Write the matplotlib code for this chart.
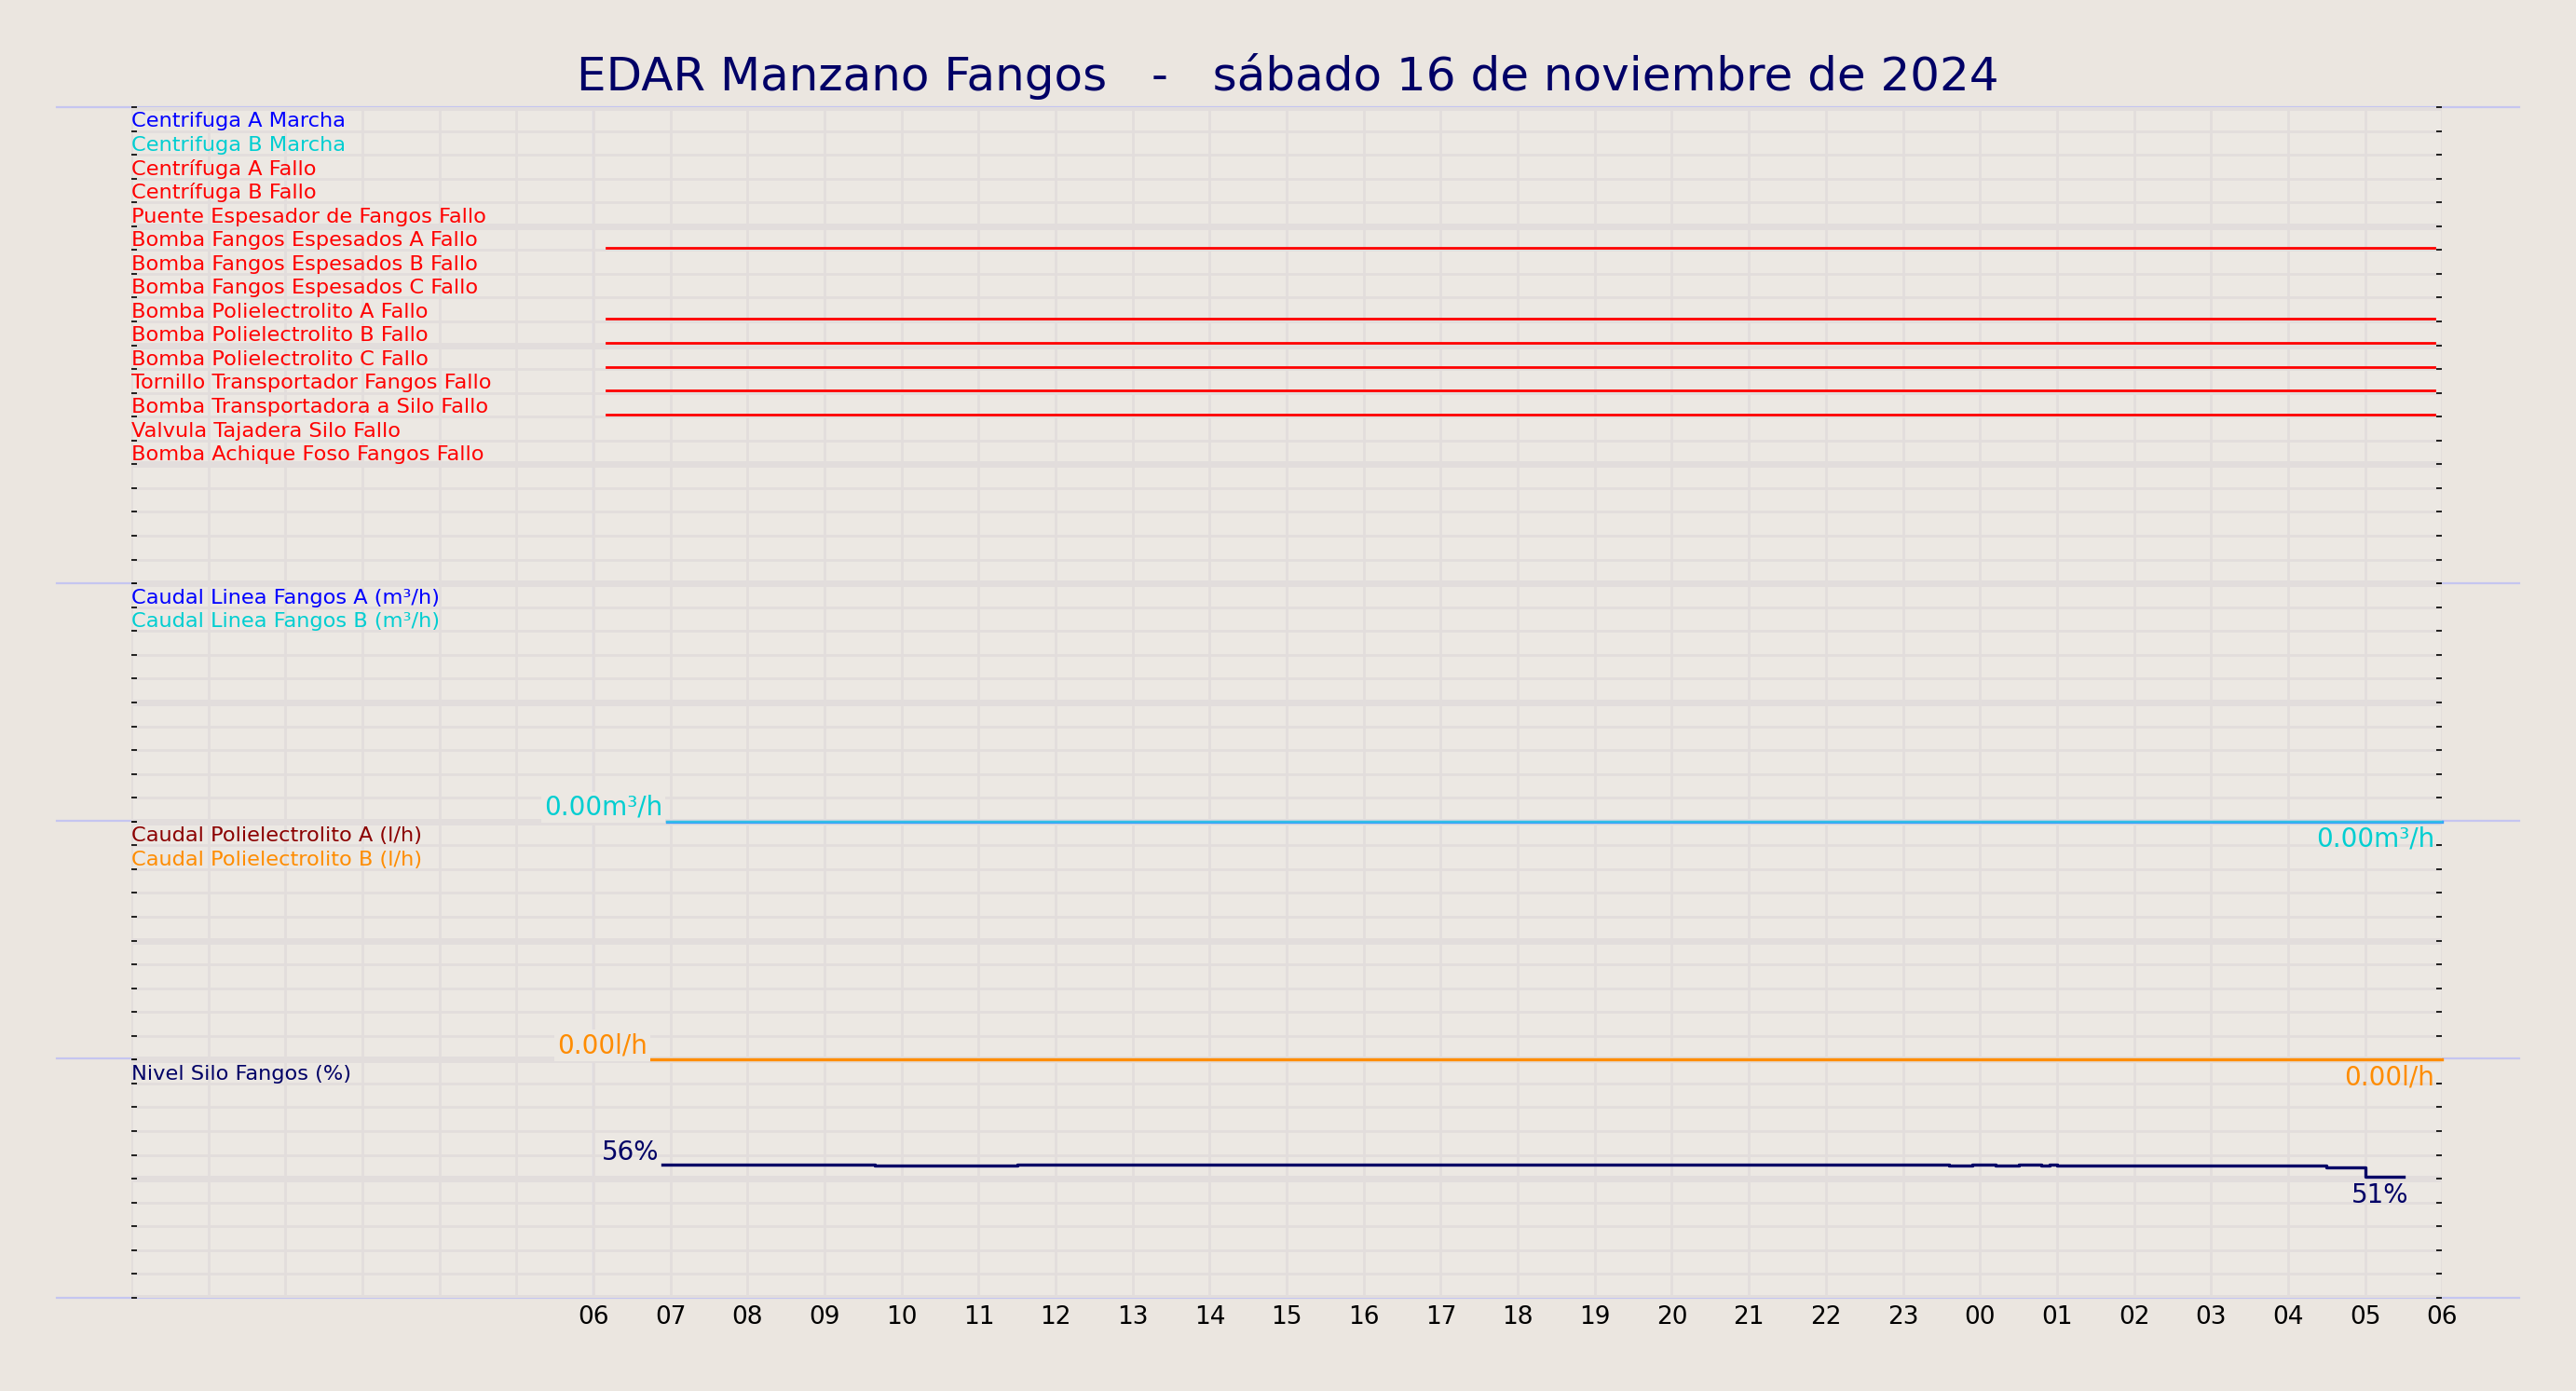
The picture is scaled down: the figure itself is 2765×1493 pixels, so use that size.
import matplotlib.pyplot as plt
import numpy as np
from matplotlib.lines import Line2D
from matplotlib.ticker import MultipleLocator

BG = '#ebe6e0'
AX_BG = '#ece8e3'
GRID = '#e2dddc'
SEP = '#c5c5f0'

# hours since 00:00 sabado 16
hour_ticks = list(range(0, 31))
hour_labels = ['' if h < 6 else '%02d' % (h % 24) for h in hour_ticks]

signal_names = ['Centrifuga A Marcha', 'Centrifuga B Marcha', 'Centrífuga A Fallo',
                'Centrífuga B Fallo', 'Puente Espesador de Fangos Fallo',
                'Bomba Fangos Espesados A Fallo', 'Bomba Fangos Espesados B Fallo',
                'Bomba Fangos Espesados C Fallo', 'Bomba Polielectrolito A Fallo',
                'Bomba Polielectrolito B Fallo', 'Bomba Polielectrolito C Fallo',
                'Tornillo Transportador Fangos Fallo', 'Bomba Transportadora a Silo Fallo',
                'Valvula Tajadera Silo Fallo', 'Bomba Achique Foso Fangos Fallo']
signal_colors = ['blue', 'darkturquoise'] + ['red'] * 13
# signals active during the whole day
active_signals = [5, 8, 9, 10, 11, 12]
active_start = 6.17
active_end = 29.9

flow_start = 6.95
flow_end = 30.0
flow_a = [0.0, 0.0]
flow_b = [0.0, 0.0]
poly_start = 6.75
poly_a = [0.0, 0.0]
poly_b = [0.0, 0.0]

level_t = [6.9, 9.6, 9.65, 11.5, 13.5, 14.5, 16.0, 18.1, 18.15, 23.6, 23.9, 24.2, 24.5,
           24.8, 24.9, 25.0, 25.5, 28.0, 28.5, 29.0, 29.5]
level_v = [56.0, 55.8, 55.7, 56.0, 55.8, 56.0, 55.9, 56.0, 55.9, 55.7, 55.8, 55.7, 55.8,
           55.6, 55.8, 55.4, 55.7, 55.6, 54.7, 51.0, 51.0]

fig = plt.figure(figsize=(13.825, 7.465), dpi=200, facecolor=BG)
gs = fig.add_gridspec(4, 1, height_ratios=[2, 1, 1, 1], hspace=0,
                      left=0.051, right=0.948, top=0.923, bottom=0.067)
axes = [fig.add_subplot(gs[i]) for i in range(4)]
nrows = [20, 10, 10, 10]

for k, (ax, n) in enumerate(zip(axes, nrows)):
    ax.set_zorder(10 - k)
    ax.set_facecolor(AX_BG)
    ax.set_xlim(0, 30)
    ax.set_ylim(0, n)
    ax.set_xticks(hour_ticks)
    ax.yaxis.set_major_locator(MultipleLocator(5))
    ax.yaxis.set_minor_locator(MultipleLocator(1))
    ax.grid(True, which='major', axis='y', color=GRID, lw=2.5)
    ax.grid(True, which='minor', axis='y', color=GRID, lw=1)
    ax.grid(True, which='major', axis='x', color=GRID, lw=1)
    ax.tick_params(axis='y', which='both', direction='in', length=2, width=0.6,
                   left=True, right=True, labelleft=False)
    ax.tick_params(axis='x', length=0, labelbottom=False)
    for s in ax.spines.values():
        s.set_visible(False)
    ax.axvline(6, color=SEP, lw=0.8, zorder=1)

axes[-1].set_xticklabels(hour_labels)
axes[-1].tick_params(axis='x', labelbottom=True, labelsize=9.5, pad=3)

# top panel: digital signals
ax = axes[0]
for i, (name, c) in enumerate(zip(signal_names, signal_colors)):
    ax.text(0.0, 19.4 - i, name, color=c, fontsize=8.1, va='center', ha='left')
for i in active_signals:
    ax.plot([active_start, active_end], [19.1 - i, 19.1 - i], color='red', lw=1.0)

lbl_box = dict(facecolor=AX_BG, edgecolor='none', pad=1)

# flow panel
ax = axes[1]
ax.text(0.0, 9.4, 'Caudal Linea Fangos A (m³/h)', color='blue', fontsize=8.1, va='center')
ax.text(0.0, 8.4, 'Caudal Linea Fangos B (m³/h)', color='darkturquoise', fontsize=8.1, va='center')
ax.plot([flow_start, flow_end], flow_a, color='#3399ff', lw=1.2, clip_on=False, zorder=4)
ax.plot([flow_start, flow_end], flow_b, color='#33c8e0', lw=0.8, alpha=0.8, clip_on=False, zorder=4)
ax.text(flow_start - 0.05, flow_a[0] + 0.6, '%.2fm³/h' % flow_b[0], color='darkturquoise',
        fontsize=10, ha='right', va='center', bbox=lbl_box, zorder=5)
ax.text(29.9, flow_b[1] - 0.75, '%.2fm³/h' % flow_b[1], color='darkturquoise',
        fontsize=10, ha='right', va='center', clip_on=False, zorder=5)

# poly panel
ax = axes[2]
ax.text(0.0, 9.4, 'Caudal Polielectrolito A (l/h)', color='darkred', fontsize=8.1, va='center')
ax.text(0.0, 8.4, 'Caudal Polielectrolito B (l/h)', color='darkorange', fontsize=8.1, va='center')
ax.plot([poly_start, 30], poly_a, color='darkred', lw=1.0, clip_on=False, zorder=4)
ax.plot([poly_start, 30], poly_b, color='darkorange', lw=1.2, clip_on=False, zorder=4)
ax.text(poly_start - 0.05, poly_b[0] + 0.6, '%.2fl/h' % poly_b[0], color='darkorange',
        fontsize=10, ha='right', va='center', bbox=lbl_box, zorder=5)
ax.text(29.9, poly_b[1] - 0.75, '%.2fl/h' % poly_b[1], color='darkorange',
        fontsize=10, ha='right', va='center', clip_on=False, zorder=5)

# level panel
ax = axes[3]
ax.set_ylim(0, 100)
ax.yaxis.set_major_locator(MultipleLocator(50))
ax.yaxis.set_minor_locator(MultipleLocator(10))
ax.text(0.0, 94.0, 'Nivel Silo Fangos (%)', color='#000066', fontsize=8.1, va='center')
ax.step(level_t, level_v, where='post', color='#000066', lw=1.2)
ax.text(level_t[0] - 0.05, level_v[0] + 5, '%d%%' % round(level_v[0]), color='#000066',
        fontsize=10, ha='right', va='center')
ax.text(level_t[-1] - 0.3, level_v[-1] - 8, '%d%%' % round(level_v[-1]), color='#000066',
        fontsize=10, ha='center', va='center')

# separator lines spanning the figure
for y in [0.923, 0.581, 0.410, 0.239, 0.067]:
    fig.add_artist(Line2D([0.022, 0.978], [y, y], color=SEP, lw=0.8, zorder=0))

fig.suptitle('EDAR Manzano Fangos   -   sábado 16 de noviembre de 2024',
             color='#000066', fontsize=18, y=0.962)

fig.savefig('out.png', facecolor=BG)
